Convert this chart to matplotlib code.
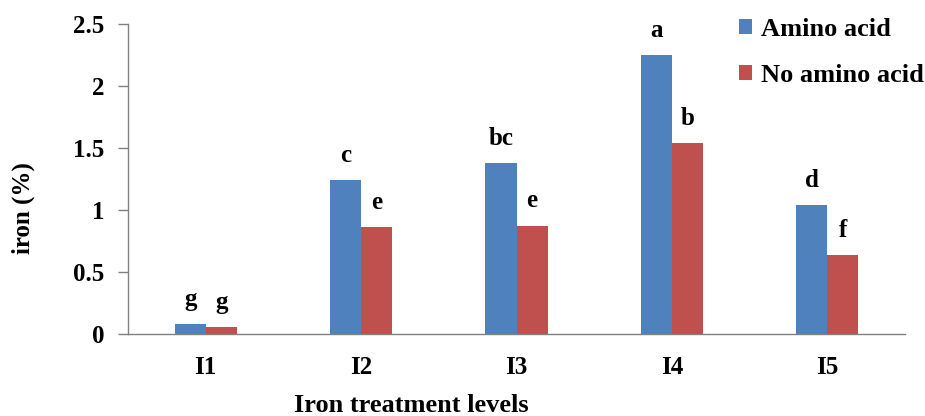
import matplotlib
matplotlib.use("Agg")
import matplotlib.pyplot as plt
import numpy as np

categories = ["I1", "I2", "I3", "I4", "I5"]
amino = [0.08, 1.24, 1.38, 2.25, 1.04]
no_amino = [0.055, 0.86, 0.875, 1.54, 0.635]
amino_letters = ["g", "c", "bc", "a", "d"]
no_amino_letters = ["g", "e", "e", "b", "f"]
series_names = ["Amino acid", "No amino acid"]
yticks = [0, 0.5, 1, 1.5, 2, 2.5]
ytick_labels = ["0", "0.5", "1", "1.5", "2", "2.5"]

plt.rcParams['font.family'] = ['Liberation Serif', 'DejaVu Serif']
plt.rcParams['font.weight'] = 'bold'

fig = plt.figure(figsize=(9.25, 4.16), dpi=100)
ax = fig.add_axes([128/925, (416-334)/416, (905-128)/925, (334-24)/416])

blue = "#4F81BD"
red = "#C0504D"
x = np.arange(len(categories))
w = 0.2
ax.bar(x - w/2, amino, w, color=blue, label=series_names[0])
ax.bar(x + w/2, no_amino, w, color=red, label=series_names[1])

for xi, v, t in zip(x - w/2, amino, amino_letters):
    ax.annotate(t, (xi, v), xytext=(0, 13), textcoords="offset points",
                ha="center", va="baseline", fontsize=18, fontweight="bold")
for xi, v, t in zip(x + w/2, no_amino, no_amino_letters):
    ax.annotate(t, (xi, v), xytext=(0, 13), textcoords="offset points",
                ha="center", va="baseline", fontsize=18, fontweight="bold")

ax.set_xlim(-0.5, 4.5)
ax.set_ylim(0, 2.5)
ax.set_yticks(yticks)
ax.set_yticklabels(ytick_labels)
ax.set_xticks(x)
ax.set_xticklabels(categories)
ax.tick_params(axis="y", labelsize=18, length=7, width=1, color="#808080", pad=10)
ax.tick_params(axis="x", labelsize=18, length=0, pad=16)
for lab in ax.get_xticklabels() + ax.get_yticklabels():
    lab.set_fontweight("bold")
for s in ["top", "right"]:
    ax.spines[s].set_visible(False)
for s in ["left", "bottom"]:
    ax.spines[s].set_color("#808080")
    ax.spines[s].set_linewidth(1.0)

fig.text(411/925, 1 - 412/416, "Iron treatment levels", ha="center", va="baseline",
         fontsize=19, fontweight="bold")
fig.text(23/925, 1 - 208/416, "iron (%)", ha="center", va="center", rotation=90,
         fontsize=18, fontweight="bold")

leg = ax.legend(loc="upper left", bbox_to_anchor=(739/925, 1 - 18/416), bbox_transform=fig.transFigure,
                frameon=False, fontsize=19, handlelength=0.5, handleheight=0.5,
                handletextpad=0.35, labelspacing=0.88, borderaxespad=0, borderpad=0)
for t in leg.get_texts():
    t.set_fontweight("bold")

fig.savefig("out.png", dpi=100)
